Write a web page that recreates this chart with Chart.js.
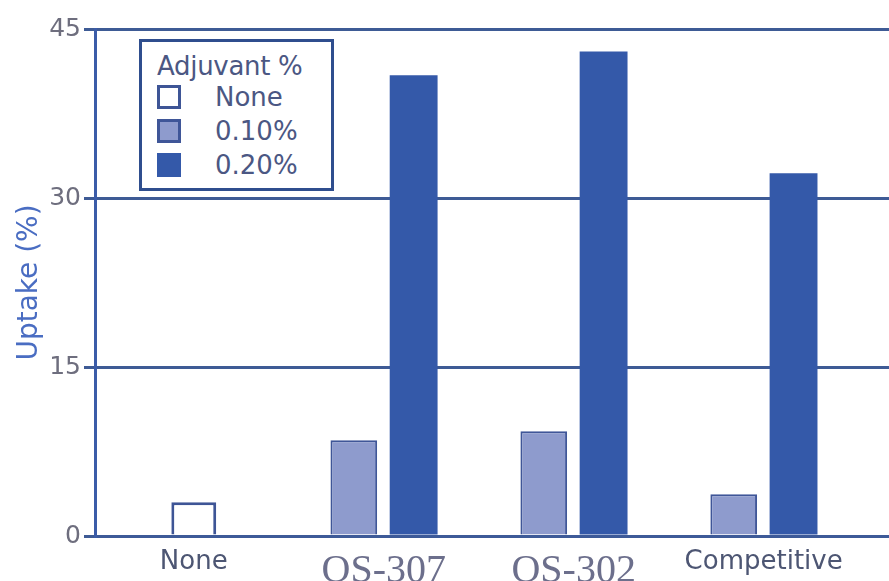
<!DOCTYPE html>
<html><head><meta charset="utf-8">
<script src="https://cdn.jsdelivr.net/npm/chart.js@4/dist/chart.umd.min.js"></script>
<style>
html,body{margin:0;padding:0;background:#fff;}
#wrap{position:relative;width:889px;height:581px;overflow:hidden;}
#c{display:block;}
#legend{position:absolute;left:139px;top:39px;width:195px;height:152px;box-sizing:border-box;border:3px solid #2f4e8e;background:#fff;font-family:'DejaVu Sans',sans-serif;color:#4b5783;padding:10px 0 0 15px;}
#legend .t{font-size:26px;line-height:28px;height:28px;margin-bottom:0;white-space:nowrap;letter-spacing:-0.3px;}
#legend .r{height:34px;display:flex;align-items:center;font-size:26px;white-space:nowrap;}
#legend .s{width:24px;height:24px;box-sizing:border-box;border:3px solid #3e5596;margin-right:34px;}
</style></head><body>
<div id="wrap"><canvas id="c" width="889" height="581"></canvas><div id="legend"></div></div>
<script>
// ---- data ----
const categories = ['None', 'QS-307', 'QS-302', 'Competitive'];
const legendTitle = 'Adjuvant %';
const seriesLabels = ['None', '0.10%', '0.20%'];
const noneValues = [3.0, null, null, null];
const lowValues = [null, 8.5, 9.3, 3.7];
const highValues = [null, 40.9, 43.0, 32.2];
const yTickValues = [0, 15, 30, 45];
const axisTitle = 'Uptake (%)';

// ---- styles ----
const fills = ['#ffffff', '#8e9bcd', '#3459a9'];
const borders = ['#3e5596', '#3f5698', '#3459a9'];
const borderWidths = [3, 2, 0];
const barPcts = [0.375, 0.78, 0.8];
const serifCats = ['QS-307', 'QS-302'];

const toPts = arr => arr.map((v, i) => ({x: i, y: v}));
const seriesData = [noneValues, lowValues, highValues];

const datasets = seriesLabels.map((lab, k) => ({
  label: lab,
  data: toPts(seriesData[k]),
  backgroundColor: fills[k],
  borderColor: borders[k],
  borderWidth: borderWidths[k],
  barPercentage: barPcts[k],
  categoryPercentage: 0.63,
  skipNull: true,
  stack: 's' + k
}));

const chart = new Chart(document.getElementById('c'), {
  type: 'bar',
  data: { datasets },
  options: {
    responsive: false,
    animation: false,
    devicePixelRatio: 1,
    layout: { padding: { top: 29, right: 0, left: 0, bottom: 0 } },
    plugins: { legend: { display: false }, tooltip: { enabled: false } },
    scales: {
      x: {
        type: 'linear',
        min: -0.52,
        max: 3.66,
        offset: false,
        grid: { display: false },
        border: { display: true, color: '#3d5a98', width: 3 },
        afterBuildTicks: s => { s.ticks = categories.map((_, i) => ({ value: i })); },
        afterFit: s => { s.height = 45; },
        ticks: {
          autoSkip: false,
          maxRotation: 0,
          minRotation: 0,
          padding: 3,
          callback: v => categories[v] ?? '',
          font: ctx => serifCats.includes(categories[ctx.index])
            ? { family: "'Liberation Serif', serif", size: 40 }
            : { family: "'DejaVu Sans', sans-serif", size: 26 },
          color: ctx => serifCats.includes(categories[ctx.index]) ? '#6c6f8c' : '#4d5673'
        }
      },
      y: {
        min: 0,
        max: 45,
        afterBuildTicks: s => { s.ticks = yTickValues.map(v => ({ value: v })); },
        afterFit: s => { s.width = 95; },
        grid: { color: '#3e5b95', lineWidth: 3, tickLength: 11, tickColor: '#3e5b95', drawTicks: true },
        border: { display: true, color: '#3b5ca8', width: 3 },
        ticks: {
          padding: 3,
          color: '#6e6e7e',
          font: { family: "'DejaVu Sans', sans-serif", size: 25 }
        },
        title: {
          display: true,
          text: axisTitle,
          color: '#4a6dc2',
          font: { family: "'DejaVu Sans', sans-serif", size: 28 },
          padding: { top: 13, bottom: 0 }
        }
      }
    }
  }
});

// HTML legend built from the datasets
const lg = document.getElementById('legend');
const t = document.createElement('div'); t.className = 't'; t.textContent = legendTitle; lg.appendChild(t);
chart.data.datasets.forEach(ds => {
  const r = document.createElement('div'); r.className = 'r';
  const s = document.createElement('div'); s.className = 's';
  s.style.background = ds.backgroundColor;
  s.style.borderColor = ds.borderWidth ? ds.borderColor : ds.backgroundColor;
  const l = document.createElement('span'); l.textContent = ds.label;
  r.appendChild(s); r.appendChild(l); lg.appendChild(r);
});
</script>
</body></html>
